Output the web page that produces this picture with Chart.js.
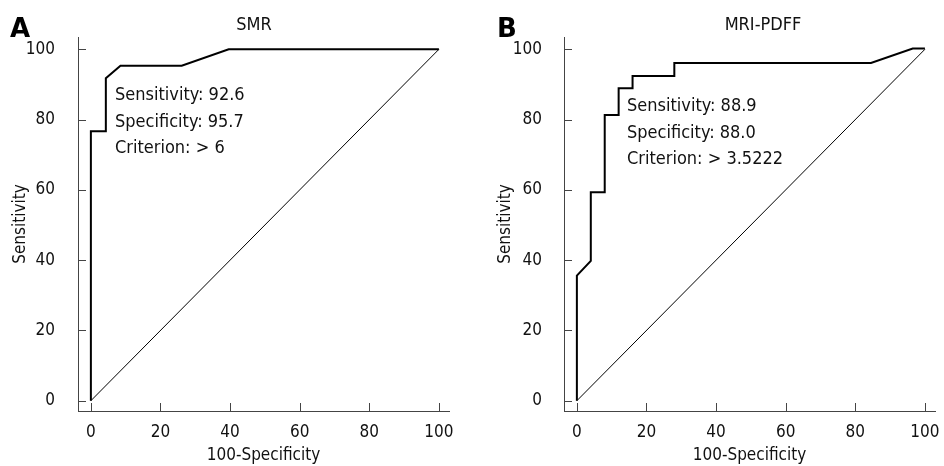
<!DOCTYPE html>
<html>
<head>
<meta charset="utf-8">
<script src="https://cdn.jsdelivr.net/npm/chart.js@4.4.1/dist/chart.umd.min.js"></script>
<style>
    html, body { margin: 0; padding: 0; background: #fff; }
    #wrap { position: relative; width: 944px; height: 466px; }
    .panel { position: absolute; top: 0; width: 472px; height: 466px; }
</style>
</head>
<body>
<div id="wrap">
    <div class="panel" style="left:0"><canvas id="chart-a" width="472" height="466"></canvas></div>
    <div class="panel" style="left:472px"><canvas id="chart-b" width="472" height="466"></canvas></div>
</div>
<script>
// Giá trị trục (tick) dùng chung cho cả hai biểu đồ
const tickValues = [0, 20, 40, 60, 80, 100];

// ROC của SMR (100-Specificity, Sensitivity)
const smrFpr = [0, 0, 4.3, 4.3, 8.5, 26.1, 39.6, 100];
const smrTpr = [0, 76.7, 76.7, 91.8, 95.3, 95.3, 100, 100];
const smrStats = ['Sensitivity: 92.6', 'Specificity: 95.7', 'Criterion: > 6'];

// ROC của MRI-PDFF
const pdffFpr = [0, 0, 4, 4, 8, 8, 12, 12, 16, 16, 28, 28, 84.5, 96.5, 100];
const pdffTpr = [0, 35.6, 39.8, 59.3, 59.3, 81.3, 81.3, 88.9, 88.9, 92.4, 92.4, 96.1, 96.1, 100.2, 100.2];
const pdffStats = ['Sensitivity: 88.9', 'Specificity: 88.0', 'Criterion: > 3.5222'];

// Đường tham chiếu (chance line)
const refX = [0, 100];
const refY = [0, 100];

const FONT = "'DejaVu Sans Condensed', 'Liberation Sans', sans-serif";
const AXIS_COLOR = '#444';

const toPoints = (xs, ys) => xs.map((x, i) => ({ x: x, y: ys[i] }));

/**
 * Vẽ vạch chia hướng vào trong, nhãn A/B, tiêu đề và khối thống kê.
 */
const decorPlugin = {
    id: 'decor',
    afterDraw(chart, args, opts) {
        const { ctx, chartArea: area } = chart;
        const x = chart.scales.x;
        const y = chart.scales.y;
        ctx.save();
        ctx.strokeStyle = AXIS_COLOR;
        ctx.lineWidth = 1;
        ctx.beginPath();
        tickValues.forEach(v => {
            const px = Math.round(x.getPixelForValue(v)) + 0.5;
            ctx.moveTo(px, area.bottom);
            ctx.lineTo(px, area.bottom - 8);
            const py = Math.round(y.getPixelForValue(v)) + 0.5;
            ctx.moveTo(area.left, py);
            ctx.lineTo(area.left + 8, py);
        });
        ctx.stroke();

        ctx.fillStyle = '#000';
        ctx.textBaseline = 'alphabetic';
        ctx.font = "bold 26px 'DejaVu Sans', sans-serif";
        ctx.textAlign = 'left';
        ctx.fillText(opts.letter, opts.letterX, 37);

        ctx.fillStyle = '#111';
        ctx.font = '18px ' + FONT;
        ctx.textAlign = 'center';
        ctx.fillText(opts.title, opts.titleX, 30);

        ctx.textAlign = 'left';
        opts.stats.forEach((line, i) => {
            ctx.fillText(line, opts.statsX, opts.statsY + i * 26.7);
        });
        ctx.restore();
    }
};

function makeRocChart(canvasId, fpr, tpr, cfg) {
    const ctx = document.getElementById(canvasId).getContext('2d');
    return new Chart(ctx, {
        type: 'scatter',
        data: {
            datasets: [{
                data: toPoints(refX, refY),
                showLine: true,
                borderColor: '#000',
                borderWidth: 1,
                pointRadius: 0,
                tension: 0
            }, {
                data: toPoints(fpr, tpr),
                showLine: true,
                borderColor: '#000',
                borderWidth: 2,
                pointRadius: 0,
                tension: 0
            }]
        },
        options: {
            responsive: false,
            animation: false,
            layout: { padding: { top: 37, right: cfg.padRight, left: 0, bottom: 0 } },
            plugins: {
                legend: { display: false },
                tooltip: { enabled: false },
                decor: cfg.decor
            },
            scales: {
                x: {
                    type: 'linear',
                    min: -3.7,
                    max: 102.9,
                    afterBuildTicks: s => { s.ticks = tickValues.map(v => ({ value: v })); },
                    afterFit: s => { s.height = 55; },
                    grid: { display: false },
                    border: { display: true, color: AXIS_COLOR, width: 1 },
                    ticks: { color: '#111', font: { family: FONT, size: 17 }, padding: 3, maxRotation: 0 },
                    title: {
                        display: true,
                        text: '100-Specificity',
                        color: '#111',
                        font: { family: FONT, size: 17 },
                        padding: { top: 0, bottom: 0 }
                    }
                },
                y: {
                    type: 'linear',
                    min: -2.93,
                    max: 103.5,
                    afterBuildTicks: s => { s.ticks = tickValues.map(v => ({ value: v })); },
                    afterFit: s => { s.width = cfg.yWidth; },
                    grid: { display: false },
                    border: { display: true, color: AXIS_COLOR, width: 1 },
                    ticks: { color: '#111', font: { family: FONT, size: 17 }, padding: cfg.tickPad },
                    title: {
                        display: true,
                        text: 'Sensitivity',
                        color: '#111',
                        font: { family: FONT, size: 17 },
                        padding: { top: cfg.yTitlePad, bottom: 0 }
                    }
                }
            }
        },
        plugins: [decorPlugin]
    });
}

makeRocChart('chart-a', smrFpr, smrTpr, {
    padRight: 23, yWidth: 78, tickPad: 15, yTitlePad: 10,
    decor: { letter: 'A', letterX: 10, title: 'SMR', titleX: 254, stats: smrStats, statsX: 115, statsY: 100 }
});

makeRocChart('chart-b', pdffFpr, pdffTpr, {
    padRight: 9, yWidth: 92, tickPad: 14, yTitlePad: 23,
    decor: { letter: 'B', letterX: 25, title: 'MRI-PDFF', titleX: 291, stats: pdffStats, statsX: 155, statsY: 111 }
});
</script>
</body>
</html>
